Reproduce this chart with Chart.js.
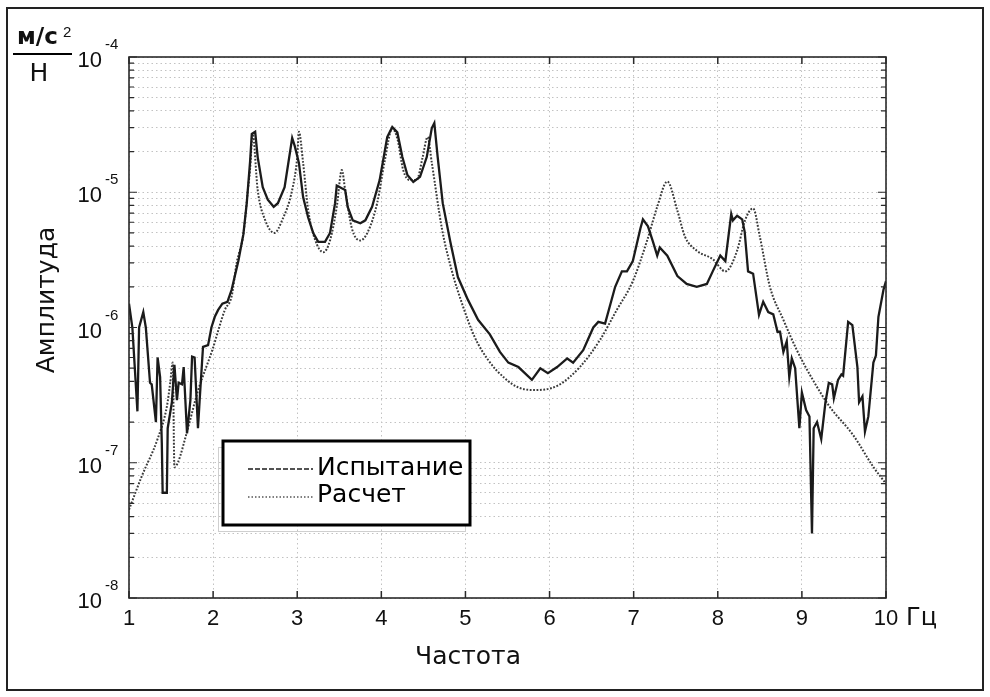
<!DOCTYPE html>
<html>
<head>
<meta charset="utf-8">
<script src="https://cdn.jsdelivr.net/npm/chart.js@4.4.1/dist/chart.umd.min.js"></script>
<style>
  html, body { margin: 0; padding: 0; background: #fff; }
  #wrap { width: 990px; height: 697px; position: relative; }
</style>
</head>
<body>
<div id="wrap"><canvas id="frfChart" width="990" height="697"></canvas></div>
<script>
// Испытание (measured), frequency in Hz and amplitude in (m/s^2)/N
const testFreq = [
  1.00, 1.04, 1.10, 1.12, 1.17, 1.20, 1.25, 1.27, 1.32, 1.34, 1.37, 1.39, 1.40, 1.45, 1.46,
  1.51, 1.54, 1.57, 1.59, 1.63, 1.65, 1.69, 1.73, 1.75, 1.78, 1.82, 1.84, 1.88, 1.94, 1.98,
  2.02, 2.06, 2.11, 2.17, 2.22, 2.30, 2.36, 2.40, 2.44, 2.46, 2.50, 2.53, 2.59, 2.65, 2.72,
  2.77, 2.85, 2.94, 2.97, 3.02, 3.07, 3.13, 3.19, 3.25, 3.33, 3.39, 3.45, 3.47, 3.53, 3.57,
  3.60, 3.66, 3.75, 3.81, 3.89, 3.98, 4.07, 4.13, 4.19, 4.25, 4.31, 4.38, 4.46, 4.54, 4.60,
  4.63, 4.67, 4.73, 4.82, 4.91, 5.03, 5.15, 5.29, 5.41, 5.51, 5.63, 5.79, 5.89, 5.98, 6.09,
  6.21, 6.28, 6.40, 6.52, 6.58, 6.66, 6.78, 6.86, 6.92, 6.99, 7.08, 7.11, 7.17, 7.23, 7.28,
  7.31, 7.40, 7.52, 7.63, 7.75, 7.87, 7.94, 8.03, 8.09, 8.16, 8.18, 8.23, 8.29, 8.32, 8.36,
  8.42, 8.49, 8.54, 8.60, 8.66, 8.71, 8.74, 8.78, 8.82, 8.85, 8.88, 8.92, 8.97, 9.00, 9.05,
  9.09, 9.12, 9.14, 9.18, 9.23, 9.28, 9.32, 9.36, 9.38, 9.43, 9.47, 9.49, 9.55, 9.60, 9.66,
  9.68, 9.72, 9.75, 9.79, 9.85, 9.88, 9.91, 9.97, 10.0
];
const testAmp = [
  1.5e-6, 1.0e-6, 2.4e-7, 1.0e-6, 1.3e-6, 1.0e-6, 3.9e-7, 3.8e-7, 2.0e-7, 6.0e-7, 4.3e-7, 1.4e-7, 6.0e-8, 6.0e-8, 1.8e-7,
  2.8e-7, 5.3e-7, 2.9e-7, 3.9e-7, 3.8e-7, 5.1e-7, 1.65e-7, 2.9e-7, 6.1e-7, 6.0e-7, 1.8e-7, 2.9e-7, 7.2e-7, 7.4e-7, 1.0e-6,
  1.2e-6, 1.35e-6, 1.5e-6, 1.55e-6, 1.9e-6, 3.1e-6, 4.9e-6, 8.3e-6, 1.7e-5, 2.7e-5, 2.8e-5, 1.82e-5, 1.09e-5, 8.8e-6, 7.8e-6,
  8.3e-6, 1.09e-5, 2.52e-5, 2.2e-5, 1.65e-5, 9.2e-6, 6.5e-6, 5.0e-6, 4.3e-6, 4.3e-6, 5.0e-6, 8.3e-6, 1.12e-5, 1.07e-5, 1.04e-5,
  7.8e-6, 6.2e-6, 5.9e-6, 6.2e-6, 7.8e-6, 1.23e-5, 2.56e-5, 3.04e-5, 2.77e-5, 1.82e-5, 1.34e-5, 1.19e-5, 1.3e-5, 1.82e-5, 2.98e-5,
  3.25e-5, 1.82e-5, 8.3e-6, 4.3e-6, 2.36e-6, 1.6e-6, 1.14e-6, 8.9e-7, 6.6e-7, 5.5e-7, 5.1e-7, 4.1e-7, 5.0e-7, 4.6e-7, 5.1e-7,
  5.9e-7, 5.5e-7, 6.8e-7, 1.0e-6, 1.1e-6, 1.07e-6, 2.0e-6, 2.6e-6, 2.6e-6, 3.1e-6, 5.4e-6, 6.3e-6, 5.6e-6, 4.3e-6, 3.4e-6,
  3.9e-6, 3.4e-6, 2.4e-6, 2.1e-6, 2.0e-6, 2.1e-6, 2.6e-6, 3.4e-6, 3.1e-6, 6.9e-6, 6.2e-6, 6.7e-6, 6.3e-6, 5.1e-6, 2.6e-6,
  2.5e-6, 1.24e-6, 1.55e-6, 1.3e-6, 1.25e-6, 9.3e-7, 9.3e-7, 6.6e-7, 7.9e-7, 4.3e-7, 5.9e-7, 5.0e-7, 1.8e-7, 3.3e-7, 2.45e-7,
  2.2e-7, 3.0e-8, 1.8e-7, 2.0e-7, 1.5e-7, 2.8e-7, 3.9e-7, 3.8e-7, 3.0e-7, 4.1e-7, 4.5e-7, 4.4e-7, 1.1e-6, 1.04e-6, 5.1e-7,
  2.8e-7, 3.1e-7, 1.7e-7, 2.2e-7, 5.5e-7, 6.2e-7, 1.2e-6, 1.9e-6, 2.2e-6
];

// Расчет (computed)
const calcFreq = [
  1.00, 1.15, 1.34, 1.45, 1.49, 1.52, 1.54, 1.58, 1.69, 1.82, 1.99, 2.14, 2.22, 2.28, 2.36,
  2.41, 2.44, 2.47, 2.53, 2.62, 2.73, 2.82, 2.94, 3.00, 3.02, 3.07, 3.13, 3.21, 3.31, 3.39,
  3.47, 3.53, 3.57, 3.65, 3.75, 3.84, 3.95, 4.04, 4.13, 4.19, 4.26, 4.34, 4.42, 4.49, 4.55,
  4.60, 4.72, 4.84, 4.96, 5.11, 5.27, 5.47, 5.63, 5.80, 6.09, 6.36, 6.60, 6.80, 6.99, 7.16,
  7.28, 7.40, 7.52, 7.61, 7.75, 7.94, 8.09, 8.23, 8.32, 8.42, 8.50, 8.62, 8.78, 8.94, 9.13,
  9.33, 9.61, 9.85, 10.0
];
const calcAmp = [
  4.5e-8, 7.9e-8, 1.5e-7, 2.6e-7, 3.9e-7, 5.5e-7, 9.3e-8, 1.0e-7, 1.7e-7, 3.4e-7, 6.8e-7, 1.35e-6, 1.7e-6, 3.0e-6, 4.9e-6,
  9.9e-6, 1.5e-5, 2.7e-5, 1.04e-5, 6.2e-6, 5.0e-6, 6.2e-6, 1.04e-5, 1.82e-5, 2.8e-5, 1.65e-5, 7.4e-6, 4.5e-6, 3.6e-6, 4.4e-6,
  7.8e-6, 1.46e-5, 1.04e-5, 5.4e-6, 4.4e-6, 5.1e-6, 8.3e-6, 1.7e-5, 2.96e-5, 2.5e-5, 1.46e-5, 1.23e-5, 1.23e-5, 1.8e-5, 2.56e-5,
  1.65e-5, 5.4e-6, 2.6e-6, 1.5e-6, 8.5e-7, 5.75e-7, 4.2e-7, 3.6e-7, 3.45e-7, 3.7e-7, 5.1e-7, 8.1e-7, 1.35e-6, 2.2e-6, 4.4e-6,
  7.8e-6, 1.2e-5, 7.3e-6, 4.7e-6, 3.7e-6, 3.2e-6, 2.6e-6, 3.7e-6, 6.1e-6, 7.6e-6, 4.7e-6, 2.0e-6, 1.14e-6, 6.8e-7, 4.1e-7,
  2.6e-7, 1.6e-7, 9.3e-8, 7.0e-8
];

// Axis ticks
const xTicks = [1, 2, 3, 4, 5, 6, 7, 8, 9, 10];
const xTickLabels = ["1", "2", "3", "4", "5", "6", "7", "8", "9", "10"];
const yDecades = [1e-4, 1e-5, 1e-6, 1e-7, 1e-8];
const yDecadeExps = ["-4", "-5", "-6", "-7", "-8"];
const yMantissas = [1, 2, 3, 4, 5, 6, 7, 8, 9];

const legendLabels = ["Испытание", "Расчет"];
const xUnit = "Гц";
const xTitle = "Частота";
const yTitle = "Амплитуда";

// all y grid values (minor + decades)
const yGridValues = [];
yDecades.slice(1).forEach((d) => {
  yMantissas.forEach((m) => yGridValues.push(m * d));
});
yGridValues.push(1e-4);

const toPoints = (xs, ys) => xs.map((x, i) => ({ x: x, y: ys[i] }));

const INK = "#1b1b1b";
const TICK_FONT = "22px 'Liberation Sans', Arial, sans-serif";
const SUP_FONT = "15px 'Liberation Sans', Arial, sans-serif";
const CYR_FONT = "25px 'DejaVu Sans', Verdana, sans-serif";

// Frame, ticks, labels and legend drawn on top of the plot
const decorPlugin = {
  id: "decor",
  afterDatasetsDraw(chart) {
    const ctx = chart.ctx;
    const a = chart.chartArea;
    const xs = chart.scales.x;
    const ys = chart.scales.y;
    ctx.save();

    // axes box
    ctx.strokeStyle = "#2a2a2a";
    ctx.lineWidth = 1.6;
    ctx.strokeRect(a.left, a.top, a.right - a.left, a.bottom - a.top);

    // x ticks (inward, bottom and top)
    ctx.lineWidth = 1.5;
    xTicks.forEach((v) => {
      const px = xs.getPixelForValue(v);
      ctx.beginPath();
      ctx.moveTo(px, a.bottom);
      ctx.lineTo(px, a.bottom - 7);
      ctx.moveTo(px, a.top);
      ctx.lineTo(px, a.top + 7);
      ctx.stroke();
    });

    // y ticks (inward, left and right)
    ctx.lineWidth = 1.2;
    yGridValues.forEach((v) => {
      const py = ys.getPixelForValue(v);
      const len = yDecades.includes(v) ? 8 : 5;
      ctx.beginPath();
      ctx.moveTo(a.left, py);
      ctx.lineTo(a.left + len, py);
      ctx.moveTo(a.right, py);
      ctx.lineTo(a.right - len, py);
      ctx.stroke();
    });

    // legend box
    const lx = 223, ly = 441, lw = 247, lh = 84;
    ctx.strokeStyle = "#cfcfcf";
    ctx.lineWidth = 1;
    ctx.strokeRect(lx - 4.5, ly + 6.5, lw, lh);
    ctx.fillStyle = "#fff";
    ctx.fillRect(lx, ly, lw, lh);
    ctx.strokeStyle = "#000";
    ctx.lineWidth = 3;
    ctx.strokeRect(lx, ly, lw, lh);

    ctx.strokeStyle = INK;
    ctx.lineWidth = 1.6;
    ctx.setLineDash([5, 2]);
    ctx.beginPath();
    ctx.moveTo(248, 469);
    ctx.lineTo(313, 469);
    ctx.stroke();
    ctx.strokeStyle = "#555";
    ctx.setLineDash([1.5, 2]);
    ctx.beginPath();
    ctx.moveTo(248, 497);
    ctx.lineTo(313, 497);
    ctx.stroke();
    ctx.setLineDash([]);

    ctx.fillStyle = "#000";
    ctx.font = CYR_FONT;
    ctx.textAlign = "left";
    ctx.textBaseline = "middle";
    ctx.fillText(legendLabels[0], 317, 468);
    ctx.fillText(legendLabels[1], 317, 495);
    ctx.restore();
  },
  afterDraw(chart) {
    const ctx = chart.ctx;
    const xs = chart.scales.x;
    const ys = chart.scales.y;
    ctx.save();
    ctx.fillStyle = "#111";

    // x tick labels
    ctx.font = TICK_FONT;
    ctx.textAlign = "center";
    ctx.textBaseline = "middle";
    xTicks.forEach((v, i) => {
      ctx.fillText(xTickLabels[i], xs.getPixelForValue(v), 619);
    });
    ctx.font = "24px 'DejaVu Sans', Verdana, sans-serif";
    ctx.textAlign = "left";
    ctx.fillText(xUnit, 906, 619);

    // y tick labels 10^n
    yDecades.forEach((v, i) => {
      const py = ys.getPixelForValue(v);
      ctx.font = TICK_FONT;
      ctx.textAlign = "right";
      ctx.fillText("10", 102, py + 4);
      ctx.font = SUP_FONT;
      ctx.textAlign = "left";
      ctx.fillText(yDecadeExps[i], 105, py - 12);
    });

    // axis titles
    ctx.font = CYR_FONT;
    ctx.textAlign = "center";
    ctx.fillText(xTitle, 468, 657);
    ctx.save();
    ctx.translate(47, 300);
    ctx.rotate(-Math.PI / 2);
    ctx.fillText(yTitle, 0, 0);
    ctx.restore();

    // unit (m/s^2)/N
    ctx.font = "bold 23px 'DejaVu Sans', Verdana, sans-serif";
    ctx.textAlign = "left";
    ctx.fillText("м/с", 17, 38);
    ctx.font = SUP_FONT;
    ctx.fillText("2", 63, 33);
    ctx.strokeStyle = "#000";
    ctx.lineWidth = 2;
    ctx.beginPath();
    ctx.moveTo(13, 54);
    ctx.lineTo(72, 54);
    ctx.stroke();
    ctx.font = "25px 'DejaVu Sans', Verdana, sans-serif";
    ctx.textAlign = "center";
    ctx.fillText("Н", 39, 74);

    // outer frame
    ctx.strokeStyle = "#222";
    ctx.lineWidth = 2;
    ctx.strokeRect(7, 8, 976, 682);
    ctx.restore();
  },
};

const ctx = document.getElementById("frfChart").getContext("2d");
new Chart(ctx, {
  type: "line",
  data: {
    datasets: [
      {
        label: legendLabels[0],
        data: toPoints(testFreq, testAmp),
        borderColor: INK,
        borderWidth: 2.3,
        pointRadius: 0,
        tension: 0,
        fill: false,
      },
      {
        label: legendLabels[1],
        data: toPoints(calcFreq, calcAmp),
        borderColor: "#3a3a3a",
        borderWidth: 2,
        borderDash: [1.8, 1.6],
        pointRadius: 0,
        cubicInterpolationMode: "monotone",
        fill: false,
      },
    ],
  },
  options: {
    responsive: false,
    animation: false,
    layout: { padding: { left: 129, right: 104, top: 57, bottom: 99 } },
    plugins: {
      legend: { display: false },
      tooltip: { enabled: false },
    },
    scales: {
      x: {
        type: "linear",
        min: 1,
        max: 10,
        afterBuildTicks: (scale) => {
          scale.ticks = xTicks.map((v) => ({ value: v }));
        },
        afterFit: (scale) => {
          scale.height = 0;
        },
        ticks: { display: false },
        grid: { color: "#c2c2c2", lineWidth: 1, drawTicks: false },
        border: { display: false, dash: [1.5, 3] },
      },
      y: {
        type: "logarithmic",
        min: 1e-8,
        max: 1e-4,
        afterBuildTicks: (scale) => {
          scale.ticks = yGridValues.map((v) => ({ value: v }));
        },
        afterFit: (scale) => {
          scale.width = 0;
        },
        ticks: { display: false },
        grid: { color: "#c2c2c2", lineWidth: 1, drawTicks: false },
        border: { display: false, dash: [1.5, 3] },
      },
    },
  },
  plugins: [decorPlugin],
});
</script>
</body>
</html>
